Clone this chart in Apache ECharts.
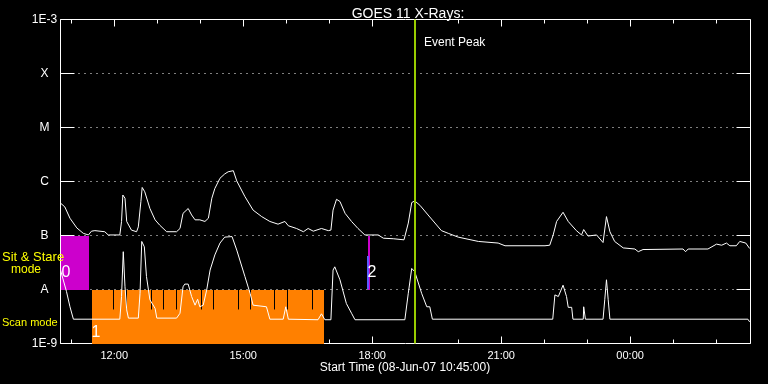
<!DOCTYPE html>
<html><head><meta charset="utf-8">
<script src="https://cdn.jsdelivr.net/npm/echarts@6/dist/echarts.min.js"></script>
<style>html,body{margin:0;padding:0;background:#000}#c{width:768px;height:384px}</style>
</head><body><div id="c"></div>
<script>
// ---- data (hours since 00:00 08-Jun-07, log10 flux W/m^2) ----
const yLevels = [-9, -8, -7, -6, -5, -4, -3];
const yLabels = ['1E-9', 'A', 'B', 'C', 'M', 'X', '1E-3'];
const xMajor = [12, 15, 18, 21, 24];
const xMajorLabels = ['12:00', '15:00', '18:00', '21:00', '00:00'];
const xMinor = [11, 12, 13, 14, 15, 16, 17, 18, 19, 20, 21, 22, 23, 24, 25, 26];
const xRange = [10.75, 26.8];

const longChannel = [
[10.75,-6.40],[10.85,-6.47],[10.97,-6.68],[11.13,-6.86],[11.28,-6.96],[11.40,-6.99],[11.47,-6.92],[11.55,-6.91],[11.78,-6.93],[11.86,-6.99],[12.13,-6.99],[12.17,-6.74],[12.20,-6.25],[12.25,-6.31],[12.29,-6.74],[12.40,-6.90],[12.52,-6.93],[12.56,-6.84],[12.62,-6.37],[12.65,-6.11],[12.71,-6.19],[12.83,-6.50],[12.95,-6.71],[13.06,-6.81],[13.22,-6.93],[13.45,-6.93],[13.53,-6.87],[13.60,-6.59],[13.72,-6.50],[13.80,-6.62],[13.88,-6.71],[13.99,-6.71],[14.11,-6.74],[14.19,-6.68],[14.27,-6.31],[14.34,-6.13],[14.46,-5.94],[14.57,-5.86],[14.65,-5.82],[14.77,-5.80],[14.85,-5.99],[15.04,-6.28],[15.23,-6.53],[15.43,-6.65],[15.62,-6.74],[15.81,-6.79],[15.97,-6.74],[16.05,-6.82],[16.24,-6.87],[16.40,-6.93],[16.51,-6.87],[16.63,-6.92],[16.82,-6.87],[16.98,-6.91],[17.04,-6.90],[17.09,-6.53],[17.17,-6.33],[17.25,-6.37],[17.37,-6.59],[17.52,-6.74],[17.67,-6.87],[17.83,-6.99],[18.14,-6.99],[18.26,-7.05],[18.49,-7.06],[18.74,-7.08],[18.84,-6.77],[18.92,-6.39],[18.99,-6.36],[19.11,-6.44],[19.30,-6.62],[19.61,-6.91],[19.77,-6.96],[20.00,-7.03],[20.47,-7.11],[20.93,-7.14],[21.09,-7.19],[22.02,-7.19],[22.13,-7.18],[22.21,-6.99],[22.29,-6.74],[22.44,-6.57],[22.56,-6.74],[22.60,-6.77],[22.75,-6.91],[22.87,-6.99],[22.92,-6.89],[23.02,-7.01],[23.22,-6.99],[23.37,-7.13],[23.45,-6.65],[23.53,-6.93],[23.64,-7.11],[23.84,-7.23],[24.11,-7.25],[24.19,-7.30],[24.30,-7.26],[25.23,-7.25],[25.29,-7.30],[25.35,-7.25],[25.81,-7.25],[25.85,-7.28],[26.01,-7.16],[26.13,-7.18],[26.24,-7.14],[26.32,-7.19],[26.47,-7.19],[26.55,-7.11],[26.69,-7.14],[26.78,-7.24]
];

const shortChannel = [
[10.75,-7.64],[10.89,-8.04],[10.97,-8.32],[11.05,-8.55],[12.13,-8.55],[12.17,-8.13],[12.21,-7.30],[12.25,-7.95],[12.29,-8.38],[12.33,-8.53],[12.56,-8.53],[12.60,-8.07],[12.64,-7.11],[12.70,-7.21],[12.75,-7.76],[12.83,-8.19],[12.95,-8.35],[12.99,-8.53],[13.45,-8.53],[13.53,-8.44],[13.60,-7.95],[13.64,-7.90],[13.72,-7.90],[13.80,-8.13],[13.88,-8.29],[13.94,-8.18],[13.99,-8.32],[14.07,-8.29],[14.15,-8.01],[14.23,-7.64],[14.34,-7.36],[14.46,-7.14],[14.57,-7.03],[14.74,-7.02],[14.85,-7.27],[15.04,-7.76],[15.16,-8.07],[15.23,-8.29],[15.54,-8.32],[15.62,-8.55],[15.93,-8.55],[15.99,-8.32],[16.05,-8.55],[16.74,-8.56],[16.82,-8.45],[16.90,-8.56],[17.04,-8.56],[17.09,-7.64],[17.13,-7.58],[17.25,-7.82],[17.40,-8.26],[17.52,-8.44],[17.60,-8.56],[18.76,-8.56],[18.84,-8.07],[18.92,-7.61],[18.99,-7.67],[19.15,-8.07],[19.27,-8.32],[19.34,-8.32],[19.40,-8.55],[22.20,-8.55],[22.25,-8.10],[22.33,-8.13],[22.44,-7.92],[22.52,-8.13],[22.56,-8.33],[22.64,-8.33],[22.67,-8.55],[22.91,-8.55],[22.92,-8.32],[22.96,-8.55],[23.37,-8.55],[23.41,-8.19],[23.45,-7.82],[23.49,-8.19],[23.53,-8.55],[26.74,-8.55],[26.78,-8.60]
];

// observing modes: start, end, low, high
const modeStart = [10.75, 11.48, 17.91];
const modeEnd = [11.41, 16.87, 17.93];
const modeLow = [-8, -9, -8];
const modeHigh = [-7, -8, -7];
const modeNames = ['0', '1', '2'];
// scan-mode sub-interval marks
const scanMarks = [11.98, 12.27, 12.85, 13.14, 13.44, 14.01, 14.30, 14.87, 15.16, 15.72, 16.02, 16.59];
const scanMarkRange = [-8.37, -8];
// small auxiliary bar next to mode 2
const auxBar = [17.87, -8, -7.38];
const eventPeak = 18.97;

// ---- styles ----
const FONT = 'Liberation Sans';
const modeColors = ['#cc00cc', '#ff8000', '#cc00cc'];
const modeLabelDy = [-17, -10.5, -17];
const modeLabelDx = [5, 4, 4];

const chart = echarts.init(document.getElementById('c'));

function xAxisDef(pos, ticks, len, labels) {
  return {
    type: 'value', min: xRange[0], max: xRange[1], position: pos,
    axisLine: { show: false }, splitLine: { show: false },
    axisTick: { show: true, inside: true, length: len, customValues: ticks, lineStyle: { color: '#fff', width: 1 } },
    axisLabel: labels ? {
      show: true, customValues: xMajor, color: '#fff', fontSize: 11, fontFamily: FONT, margin: 7,
      formatter: v => xMajorLabels[xMajor.indexOf(v)]
    } : { show: false }
  };
}

const modeData = modeStart.map((s, i) => [s, modeEnd[i], modeLow[i], modeHigh[i]]);

chart.setOption({
  backgroundColor: '#000',
  animation: false,
  title: {
    text: 'GOES 11 X-Rays:', left: 403, top: 2, textAlign: 'center',
    textStyle: { color: '#fff', fontSize: 14, fontWeight: 'normal', fontFamily: FONT }
  },
  grid: { left: 60.5, right: 17.5, top: 19.5, bottom: 40.5, show: true, borderColor: '#fff', borderWidth: 1, backgroundColor: 'transparent' },
  xAxis: [
    xAxisDef('bottom', xMajor, 7, true),
    xAxisDef('bottom', xMinor, 4, false),
    xAxisDef('top', xMajor, 7, false),
    xAxisDef('top', xMinor, 4, false)
  ],
  yAxis: [
    {
      type: 'value', min: -9, max: -3, interval: 1, position: 'left',
      axisLine: { show: false },
      axisTick: { show: true, inside: true, length: 14, lineStyle: { color: '#fff' } },
      splitLine: { show: true, lineStyle: { color: '#fff', width: 1, type: [1, 5] } },
      axisLabel: {
        color: '#fff', fontSize: 12, fontFamily: FONT, align: 'center', margin: 16,
        formatter: v => yLabels[yLevels.indexOf(Math.round(v))]
      }
    },
    {
      type: 'value', min: -9, max: -3, interval: 1, position: 'right',
      axisLine: { show: false }, splitLine: { show: false }, axisLabel: { show: false },
      axisTick: { show: true, inside: true, length: 14, lineStyle: { color: '#fff' } }
    }
  ],
  series: [
    {
      type: 'custom', name: 'modes', data: modeData, z: 1,
      renderItem: (params, api) => {
        const i = params.dataIndex;
        const p0 = api.coord([api.value(0), api.value(3)]);
        const p1 = api.coord([api.value(1), api.value(2)]);
        const w = Math.max(Math.round(p1[0] - p0[0]), 2);
        const x = Math.round(p0[0]);
        return {
          type: 'group', children: [
            { type: 'rect', shape: { x: x, y: Math.round(p0[1]), width: w, height: Math.round(p1[1]) - Math.round(p0[1]) }, style: { fill: modeColors[i] } },
            { type: 'text', z2: 10, style: { text: modeNames[i], x: x + modeLabelDx[i], y: p1[1] + modeLabelDy[i], fill: '#fff', font: '16px ' + FONT, textAlign: 'center', textVerticalAlign: 'middle' } }
          ]
        };
      }
    },
    {
      type: 'custom', name: 'aux', data: [auxBar], z: 1,
      renderItem: (params, api) => {
        const p0 = api.coord([api.value(0), api.value(2)]);
        const p1 = api.coord([api.value(0), api.value(1)]);
        return { type: 'rect', shape: { x: Math.round(p0[0]), y: Math.round(p0[1]), width: 2, height: Math.round(p1[1] - p0[1]) }, style: { fill: '#5a5aff' } };
      }
    },
    {
      type: 'custom', name: 'scanMarks', data: scanMarks.map(t => [t]), z: 2,
      renderItem: (params, api) => {
        const a = api.coord([api.value(0), scanMarkRange[1]]);
        const b = api.coord([api.value(0), scanMarkRange[0]]);
        const x = Math.round(a[0]) + 0.5;
        return { type: 'line', shape: { x1: x, y1: a[1], x2: x, y2: b[1] }, style: { stroke: '#000', lineWidth: 1 } };
      }
    },
    {
      type: 'line', name: '1-8 A', data: longChannel, showSymbol: false, symbol: 'none', z: 3,
      lineStyle: { color: '#fff', width: 1 }, itemStyle: { color: '#fff' }
    },
    {
      type: 'line', name: '0.5-4 A', data: shortChannel, showSymbol: false, symbol: 'none', z: 3,
      lineStyle: { color: '#fff', width: 1 }, itemStyle: { color: '#fff' }
    },
    {
      type: 'custom', name: 'peak', data: [[eventPeak]], z: 4,
      renderItem: (params, api) => {
        const top = api.coord([api.value(0), -3]);
        const bot = api.coord([api.value(0), -9]);
        const x = Math.round(top[0]) + 1;
        return {
          type: 'group', children: [
            { type: 'line', shape: { x1: x, y1: top[1], x2: x, y2: bot[1] }, style: { stroke: '#99cc00', lineWidth: 2 } },
            { type: 'text', style: { text: 'Event Peak', x: x + 9, y: top[1] + 23, fill: '#fff', font: '12px ' + FONT, textVerticalAlign: 'middle' } }
          ]
        };
      }
    }
  ],
  graphic: [
    { type: 'text', z: 100, left: 2, top: 251, style: { text: 'Sit & Stare', fill: '#ffff00', font: '13px ' + FONT } },
    { type: 'text', z: 100, left: 11, top: 264, style: { text: 'mode', fill: '#ffff00', font: '12px ' + FONT } },
    { type: 'text', z: 100, left: 2, top: 317, style: { text: 'Scan mode', fill: '#ffff00', font: '11px ' + FONT } },
    { type: 'text', z: 100, x: 405, y: 368, style: { text: 'Start Time (08-Jun-07 10:45:00)', fill: '#fff', font: '12px ' + FONT, textAlign: 'center', textVerticalAlign: 'middle' } }
  ]
});
</script></body></html>
